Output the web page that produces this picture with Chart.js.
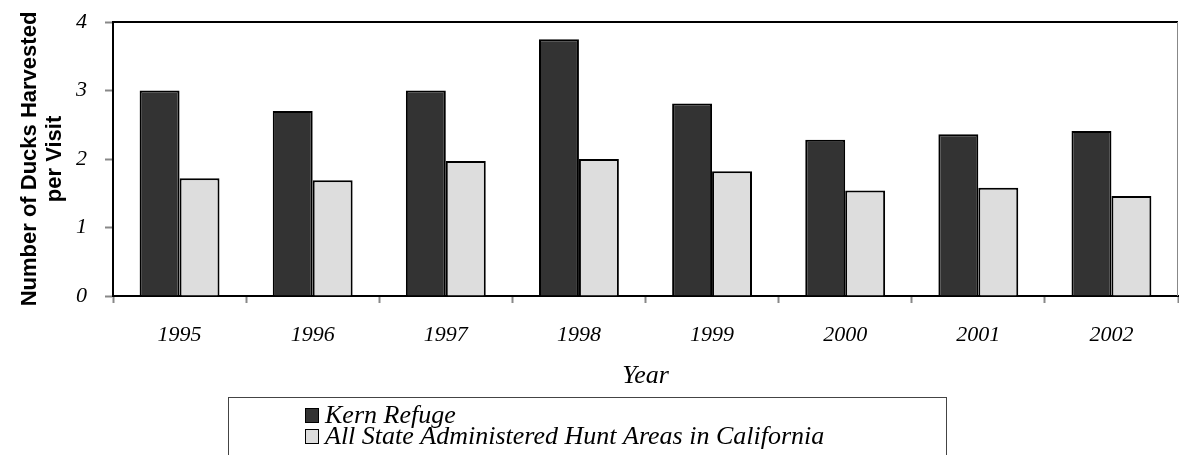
<!DOCTYPE html>
<html>
<head>
<meta charset="utf-8">
<script src="https://cdn.jsdelivr.net/npm/chart.js@4/dist/chart.umd.min.js"></script>
<style>
  html, body { margin: 0; padding: 0; background: #fff; }
  #wrap { width: 1179px; height: 455px; }
</style>
</head>
<body>
<div id="wrap"><canvas id="myChart" width="1179" height="455"></canvas></div>
<script>
const years = ["1995", "1996", "1997", "1998", "1999", "2000", "2001", "2002"];
const kernRefuge = [3.0, 2.7, 3.0, 3.75, 2.81, 2.28, 2.36, 2.41];
const stateAreas = [1.72, 1.69, 1.97, 2.0, 1.82, 1.54, 1.58, 1.46];
const yTicks = [0, 1, 2, 3, 4];

const serif = "'Liberation Serif', 'Times New Roman', serif";

// top + right border of the plot box
const frame = {
  id: "frame",
  afterDatasetsDraw(chart) {
    const { ctx, chartArea: a } = chart;
    ctx.save();
    ctx.strokeStyle = "#000";
    ctx.lineWidth = 2;
    ctx.beginPath();
    ctx.moveTo(a.left, a.top);
    ctx.lineTo(a.right, a.top);
    ctx.stroke();
    ctx.strokeStyle = "#888";
    ctx.lineWidth = 1;
    ctx.beginPath();
    ctx.moveTo(a.right - 0.5, a.top);
    ctx.lineTo(a.right - 0.5, a.bottom);
    ctx.stroke();
    ctx.restore();
  }
};

// boxed legend under the x axis title
const boxLegend = {
  id: "boxLegend",
  afterDraw(chart) {
    const ctx = chart.ctx;
    ctx.save();
    ctx.strokeStyle = "#444";
    ctx.lineWidth = 1;
    ctx.strokeRect(228.5, 397.5, 718, 70);
    ctx.font = "italic 26px " + serif;
    ctx.textBaseline = "alphabetic";
    chart.data.datasets.forEach(function (ds, i) {
      const y = 408 + i * 21;
      ctx.fillStyle = ds.backgroundColor;
      ctx.fillRect(305, y, 14, 15);
      ctx.strokeStyle = "#000";
      ctx.strokeRect(305.5, y + 0.5, 13, 14);
      ctx.fillStyle = "#000";
      ctx.fillText(ds.label, 325, y + 15);
    });
    ctx.restore();
  }
};

const data = {
  labels: years,
  datasets: [{
    label: "Kern Refuge",
    data: kernRefuge,
    backgroundColor: "#333333",
    borderColor: "#000",
    borderWidth: 2
  }, {
    label: "All State Administered Hunt Areas in California",
    data: stateAreas,
    backgroundColor: "#dddddd",
    borderColor: "#000",
    borderWidth: 2
  }]
};

const config = {
  type: "bar",
  data: data,
  plugins: [frame, boxLegend],
  options: {
    responsive: false,
    animation: false,
    layout: { padding: { top: 22, right: 1, left: 0, bottom: 0 } },
    datasets: { bar: { categoryPercentage: 0.6, barPercentage: 1.0 } },
    plugins: {
      legend: { display: false },
      tooltip: { enabled: false }
    },
    scales: {
      x: {
        afterFit: function (scale) {
          scale.height = 159;
          scale.paddingLeft = 0;
          scale.paddingRight = 0;
        },
        grid: {
          offset: true,
          drawOnChartArea: false,
          tickLength: 7,
          tickColor: "#888",
          tickWidth: 2
        },
        border: { color: "#000", width: 2 },
        ticks: {
          color: "#000",
          padding: 19,
          font: { family: serif, size: 22, style: "italic" }
        },
        title: {
          display: true,
          text: "Year",
          color: "#000",
          padding: { top: 0, bottom: 63 },
          font: { family: serif, size: 26, style: "italic" }
        }
      },
      y: {
        min: 0,
        max: 4,
        afterFit: function (scale) {
          scale.width = 113;
          scale.paddingTop = 0;
          scale.paddingBottom = 0;
        },
        afterBuildTicks: function (scale) {
          scale.ticks = yTicks.map(v => ({ value: v }));
        },
        grid: {
          drawOnChartArea: false,
          tickLength: 8,
          tickColor: "#888",
          tickWidth: 2
        },
        border: { color: "#000", width: 2 },
        ticks: {
          color: "#000",
          padding: 18,
          font: { family: serif, size: 22, style: "italic" }
        },
        title: {
          display: true,
          text: ["Number of Ducks Harvested", "per Visit"],
          color: "#000",
          padding: { top: 17, bottom: 0 },
          font: { family: "'Liberation Sans', Arial, sans-serif", size: 22, weight: "bold", lineHeight: 1.15 }
        }
      }
    }
  }
};

const myChart = new Chart(document.getElementById("myChart"), config);
</script>
</body>
</html>
